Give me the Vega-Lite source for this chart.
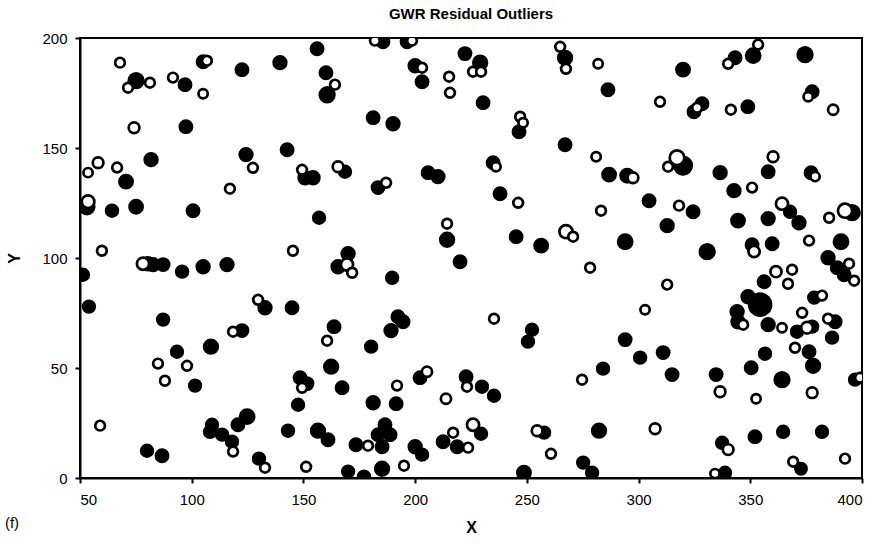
{
"$schema":"https://vega.github.io/schema/vega-lite/v6.json",
"width":782,"height":440,
"autosize":{"type":"none"},
"padding":{"left":80,"top":38,"right":18,"bottom":70},
"background":"white",
"config":{"view":{"stroke":"black","strokeWidth":2},"font":"Liberation Sans"},
"title":{"text":"GWR Residual Outliers","fontSize":15,"fontWeight":"bold","font":"Liberation Sans","offset":9,"color":"black"},
"layer":[
{"data":{"values":[
{"X":75.1,"Y":180.6,"sign":"positive","r":3.0},{"X":97.0,"Y":178.8,"sign":"positive","r":2.5},{"X":105.1,"Y":189.2,"sign":"positive","r":2.5},{"X":122.5,"Y":185.6,"sign":"positive","r":2.5},{"X":139.5,"Y":188.8,"sign":"positive","r":2.6},{"X":97.4,"Y":159.7,"sign":"positive","r":2.5},{"X":81.8,"Y":144.7,"sign":"positive","r":2.6},{"X":70.6,"Y":134.7,"sign":"positive","r":2.7},{"X":124.3,"Y":147.0,"sign":"positive","r":2.6},{"X":156.1,"Y":195.1,"sign":"positive","r":2.5},{"X":160.1,"Y":184.2,"sign":"positive","r":2.5},{"X":160.6,"Y":174.2,"sign":"positive","r":3.0},{"X":185.6,"Y":198.3,"sign":"positive","r":2.5},{"X":196.4,"Y":198.3,"sign":"positive","r":2.5},{"X":200.0,"Y":187.4,"sign":"positive","r":2.6},{"X":203.1,"Y":180.1,"sign":"positive","r":2.5},{"X":222.3,"Y":192.9,"sign":"positive","r":2.5},{"X":229.1,"Y":188.8,"sign":"positive","r":2.8},{"X":181.2,"Y":163.8,"sign":"positive","r":2.5},{"X":190.1,"Y":161.0,"sign":"positive","r":2.6},{"X":142.7,"Y":149.2,"sign":"positive","r":2.5},{"X":150.7,"Y":136.5,"sign":"positive","r":2.6},{"X":154.3,"Y":136.5,"sign":"positive","r":2.6},{"X":168.6,"Y":139.2,"sign":"positive","r":2.4},{"X":205.8,"Y":138.8,"sign":"positive","r":2.5},{"X":210.2,"Y":137.0,"sign":"positive","r":2.6},{"X":183.4,"Y":132.0,"sign":"positive","r":2.5},{"X":267.1,"Y":191.0,"sign":"positive","r":2.8},{"X":286.3,"Y":176.5,"sign":"positive","r":2.5},{"X":230.4,"Y":170.6,"sign":"positive","r":2.5},{"X":246.5,"Y":157.4,"sign":"positive","r":2.5},{"X":267.1,"Y":151.5,"sign":"positive","r":2.5},{"X":234.9,"Y":143.3,"sign":"positive","r":2.5},{"X":286.8,"Y":137.9,"sign":"positive","r":2.7},{"X":294.9,"Y":137.4,"sign":"positive","r":2.7},{"X":351.3,"Y":192.0,"sign":"positive","r":2.9},{"X":343.2,"Y":191.0,"sign":"positive","r":2.5},{"X":374.5,"Y":192.4,"sign":"positive","r":3.0},{"X":319.9,"Y":185.6,"sign":"positive","r":2.7},{"X":328.4,"Y":170.1,"sign":"positive","r":2.5},{"X":324.8,"Y":166.5,"sign":"positive","r":2.5},{"X":348.9,"Y":168.8,"sign":"positive","r":2.5},{"X":377.7,"Y":175.6,"sign":"positive","r":2.5},{"X":319.9,"Y":142.0,"sign":"positive","r":3.6},{"X":336.5,"Y":138.8,"sign":"positive","r":2.6},{"X":358.0,"Y":139.2,"sign":"positive","r":2.5},{"X":377.2,"Y":138.8,"sign":"positive","r":2.5},{"X":342.7,"Y":130.6,"sign":"positive","r":2.6},{"X":53.1,"Y":123.3,"sign":"positive","r":3.0},{"X":64.3,"Y":121.5,"sign":"positive","r":2.4},{"X":75.1,"Y":123.3,"sign":"positive","r":2.7},{"X":100.6,"Y":121.5,"sign":"positive","r":2.5},{"X":80.4,"Y":97.4,"sign":"positive","r":2.6},{"X":82.7,"Y":97.0,"sign":"positive","r":2.6},{"X":87.2,"Y":97.0,"sign":"positive","r":2.5},{"X":51.3,"Y":92.4,"sign":"positive","r":2.4},{"X":95.7,"Y":93.8,"sign":"positive","r":2.4},{"X":105.1,"Y":96.0,"sign":"positive","r":2.6},{"X":115.8,"Y":97.0,"sign":"positive","r":2.6},{"X":132.8,"Y":77.4,"sign":"positive","r":2.6},{"X":54.0,"Y":77.9,"sign":"positive","r":2.4},{"X":87.2,"Y":72.0,"sign":"positive","r":2.4},{"X":122.5,"Y":67.0,"sign":"positive","r":2.5},{"X":157.0,"Y":118.3,"sign":"positive","r":2.4},{"X":214.3,"Y":108.3,"sign":"positive","r":2.8},{"X":220.1,"Y":98.3,"sign":"positive","r":2.5},{"X":170.0,"Y":102.0,"sign":"positive","r":2.6},{"X":165.5,"Y":96.0,"sign":"positive","r":2.6},{"X":189.7,"Y":91.0,"sign":"positive","r":2.4},{"X":144.9,"Y":77.4,"sign":"positive","r":2.5},{"X":163.7,"Y":68.8,"sign":"positive","r":2.5},{"X":192.3,"Y":73.3,"sign":"positive","r":2.5},{"X":194.6,"Y":71.0,"sign":"positive","r":2.5},{"X":189.2,"Y":67.0,"sign":"positive","r":2.6},{"X":238.0,"Y":129.2,"sign":"positive","r":2.5},{"X":304.7,"Y":126.0,"sign":"positive","r":2.5},{"X":312.8,"Y":114.7,"sign":"positive","r":2.6},{"X":245.2,"Y":109.7,"sign":"positive","r":2.5},{"X":256.4,"Y":105.6,"sign":"positive","r":2.7},{"X":294.0,"Y":107.4,"sign":"positive","r":2.9},{"X":252.3,"Y":67.4,"sign":"positive","r":2.4},{"X":250.5,"Y":62.0,"sign":"positive","r":2.4},{"X":324.4,"Y":121.0,"sign":"positive","r":2.5},{"X":344.5,"Y":117.0,"sign":"positive","r":2.7},{"X":358.0,"Y":117.9,"sign":"positive","r":2.6},{"X":367.8,"Y":121.0,"sign":"positive","r":2.4},{"X":371.8,"Y":116.0,"sign":"positive","r":2.6},{"X":395.6,"Y":120.6,"sign":"positive","r":3.0},{"X":330.7,"Y":102.9,"sign":"positive","r":3.0},{"X":350.8,"Y":106.0,"sign":"positive","r":2.5},{"X":359.8,"Y":106.5,"sign":"positive","r":2.5},{"X":390.6,"Y":107.4,"sign":"positive","r":2.9},{"X":384.8,"Y":100.1,"sign":"positive","r":2.6},{"X":388.9,"Y":95.6,"sign":"positive","r":2.5},{"X":392.0,"Y":92.4,"sign":"positive","r":2.5},{"X":356.2,"Y":89.2,"sign":"positive","r":2.5},{"X":349.0,"Y":82.4,"sign":"positive","r":2.6},{"X":354.4,"Y":78.8,"sign":"positive","r":4.5},{"X":344.1,"Y":75.6,"sign":"positive","r":2.6},{"X":344.5,"Y":71.0,"sign":"positive","r":2.6},{"X":358.0,"Y":69.7,"sign":"positive","r":2.6},{"X":378.6,"Y":82.0,"sign":"positive","r":2.4},{"X":388.0,"Y":71.0,"sign":"positive","r":2.5},{"X":370.9,"Y":66.5,"sign":"positive","r":2.4},{"X":377.7,"Y":68.8,"sign":"positive","r":2.4},{"X":386.6,"Y":63.8,"sign":"positive","r":2.4},{"X":376.3,"Y":57.4,"sign":"positive","r":2.5},{"X":378.1,"Y":51.0,"sign":"positive","r":2.8},{"X":311.0,"Y":57.0,"sign":"positive","r":2.5},{"X":315.0,"Y":47.0,"sign":"positive","r":2.5},{"X":334.7,"Y":47.0,"sign":"positive","r":2.5},{"X":350.4,"Y":50.1,"sign":"positive","r":2.5},{"X":356.6,"Y":56.5,"sign":"positive","r":2.4},{"X":364.2,"Y":44.7,"sign":"positive","r":3.0},{"X":396.9,"Y":44.7,"sign":"positive","r":2.4},{"X":337.4,"Y":16.0,"sign":"positive","r":2.4},{"X":352.1,"Y":18.8,"sign":"positive","r":2.5},{"X":364.7,"Y":21.0,"sign":"positive","r":2.4},{"X":382.1,"Y":21.0,"sign":"positive","r":2.4},{"X":372.7,"Y":4.2,"sign":"positive","r":2.3},{"X":338.7,"Y":2.4,"sign":"positive","r":2.4},{"X":294.0,"Y":62.9,"sign":"positive","r":2.5},{"X":300.7,"Y":54.7,"sign":"positive","r":2.4},{"X":284.1,"Y":49.7,"sign":"positive","r":2.4},{"X":222.8,"Y":46.0,"sign":"positive","r":2.5},{"X":229.9,"Y":41.5,"sign":"positive","r":2.4},{"X":235.3,"Y":37.4,"sign":"positive","r":2.4},{"X":229.5,"Y":20.1,"sign":"positive","r":2.4},{"X":257.7,"Y":20.6,"sign":"positive","r":2.4},{"X":282.3,"Y":21.5,"sign":"positive","r":2.8},{"X":275.2,"Y":7.0,"sign":"positive","r":2.4},{"X":279.2,"Y":2.4,"sign":"positive","r":2.4},{"X":248.7,"Y":2.4,"sign":"positive","r":2.7},{"X":180.3,"Y":59.7,"sign":"positive","r":2.4},{"X":162.4,"Y":50.6,"sign":"positive","r":2.8},{"X":148.5,"Y":45.6,"sign":"positive","r":2.5},{"X":151.6,"Y":42.9,"sign":"positive","r":2.5},{"X":167.3,"Y":41.0,"sign":"positive","r":2.5},{"X":202.2,"Y":45.6,"sign":"positive","r":2.5},{"X":147.6,"Y":33.3,"sign":"positive","r":2.4},{"X":181.2,"Y":34.2,"sign":"positive","r":2.6},{"X":191.5,"Y":33.8,"sign":"positive","r":2.5},{"X":143.1,"Y":21.5,"sign":"positive","r":2.4},{"X":156.5,"Y":21.5,"sign":"positive","r":2.8},{"X":161.0,"Y":17.4,"sign":"positive","r":2.5},{"X":173.5,"Y":15.1,"sign":"positive","r":2.5},{"X":183.4,"Y":19.7,"sign":"positive","r":2.5},{"X":186.5,"Y":24.2,"sign":"positive","r":2.5},{"X":188.8,"Y":19.7,"sign":"positive","r":2.5},{"X":185.2,"Y":14.2,"sign":"positive","r":2.5},{"X":200.0,"Y":14.2,"sign":"positive","r":2.6},{"X":203.1,"Y":10.6,"sign":"positive","r":2.4},{"X":212.5,"Y":16.5,"sign":"positive","r":2.5},{"X":218.8,"Y":14.2,"sign":"positive","r":2.5},{"X":170.0,"Y":2.9,"sign":"positive","r":2.4},{"X":177.1,"Y":0.6,"sign":"positive","r":2.4},{"X":185.2,"Y":4.2,"sign":"positive","r":2.8},{"X":108.6,"Y":59.7,"sign":"positive","r":2.8},{"X":93.4,"Y":57.4,"sign":"positive","r":2.4},{"X":101.5,"Y":42.0,"sign":"positive","r":2.4},{"X":109.1,"Y":24.2,"sign":"positive","r":2.4},{"X":108.2,"Y":21.0,"sign":"positive","r":2.4},{"X":113.6,"Y":19.7,"sign":"positive","r":2.4},{"X":118.0,"Y":16.5,"sign":"positive","r":2.4},{"X":124.8,"Y":27.9,"sign":"positive","r":2.9},{"X":120.7,"Y":24.2,"sign":"positive","r":2.5},{"X":80.0,"Y":12.4,"sign":"positive","r":2.4},{"X":86.7,"Y":10.1,"sign":"positive","r":2.5},{"X":130.1,"Y":8.8,"sign":"positive","r":2.4},
{"X":67.9,"Y":188.8,"sign":"negative","r":2.0},{"X":71.5,"Y":177.4,"sign":"negative","r":2.0},{"X":81.3,"Y":179.7,"sign":"negative","r":2.0},{"X":91.6,"Y":182.0,"sign":"negative","r":2.0},{"X":105.1,"Y":174.7,"sign":"negative","r":1.9},{"X":106.8,"Y":189.7,"sign":"negative","r":2.0},{"X":74.2,"Y":159.2,"sign":"negative","r":2.2},{"X":58.1,"Y":143.3,"sign":"negative","r":2.2},{"X":53.6,"Y":138.8,"sign":"negative","r":1.9},{"X":66.6,"Y":141.1,"sign":"negative","r":2.0},{"X":127.4,"Y":141.0,"sign":"negative","r":2.0},{"X":117.1,"Y":131.5,"sign":"negative","r":2.0},{"X":164.1,"Y":178.8,"sign":"negative","r":2.0},{"X":182.0,"Y":198.8,"sign":"negative","r":2.0},{"X":198.6,"Y":198.8,"sign":"negative","r":2.0},{"X":203.1,"Y":186.5,"sign":"negative","r":2.0},{"X":215.2,"Y":182.4,"sign":"negative","r":2.0},{"X":215.6,"Y":175.1,"sign":"negative","r":2.0},{"X":225.9,"Y":184.7,"sign":"negative","r":2.0},{"X":229.5,"Y":184.7,"sign":"negative","r":2.0},{"X":149.4,"Y":140.1,"sign":"negative","r":2.0},{"X":165.5,"Y":141.5,"sign":"negative","r":2.2},{"X":187.0,"Y":134.2,"sign":"negative","r":2.0},{"X":264.9,"Y":196.0,"sign":"negative","r":2.0},{"X":267.5,"Y":186.0,"sign":"negative","r":2.0},{"X":281.9,"Y":188.3,"sign":"negative","r":1.9},{"X":309.6,"Y":171.0,"sign":"negative","r":2.0},{"X":247.0,"Y":164.2,"sign":"negative","r":2.0},{"X":248.3,"Y":161.5,"sign":"negative","r":1.9},{"X":281.0,"Y":146.0,"sign":"negative","r":1.9},{"X":236.2,"Y":141.5,"sign":"negative","r":1.9},{"X":297.5,"Y":136.5,"sign":"negative","r":2.2},{"X":353.5,"Y":197.0,"sign":"negative","r":2.0},{"X":340.1,"Y":188.3,"sign":"negative","r":2.0},{"X":326.2,"Y":168.3,"sign":"negative","r":2.0},{"X":341.3,"Y":167.4,"sign":"negative","r":2.0},{"X":375.9,"Y":173.3,"sign":"negative","r":1.9},{"X":387.1,"Y":167.4,"sign":"negative","r":2.1},{"X":313.2,"Y":141.5,"sign":"negative","r":2.0},{"X":317.2,"Y":145.6,"sign":"negative","r":3.0},{"X":360.2,"Y":146.0,"sign":"negative","r":2.2},{"X":379.0,"Y":137.0,"sign":"negative","r":1.9},{"X":350.8,"Y":132.0,"sign":"negative","r":2.0},{"X":53.6,"Y":125.6,"sign":"negative","r":2.6},{"X":59.8,"Y":103.3,"sign":"negative","r":2.0},{"X":78.2,"Y":97.4,"sign":"negative","r":2.5},{"X":129.7,"Y":81.0,"sign":"negative","r":2.0},{"X":118.5,"Y":66.5,"sign":"negative","r":2.0},{"X":214.3,"Y":115.6,"sign":"negative","r":2.0},{"X":145.3,"Y":103.3,"sign":"negative","r":2.0},{"X":169.5,"Y":97.0,"sign":"negative","r":2.5},{"X":171.8,"Y":93.3,"sign":"negative","r":2.0},{"X":246.1,"Y":125.1,"sign":"negative","r":2.0},{"X":283.2,"Y":121.5,"sign":"negative","r":2.0},{"X":267.5,"Y":112.0,"sign":"negative","r":2.7},{"X":270.7,"Y":109.7,"sign":"negative","r":2.0},{"X":278.3,"Y":95.6,"sign":"negative","r":2.0},{"X":312.8,"Y":87.9,"sign":"negative","r":2.0},{"X":302.9,"Y":76.5,"sign":"negative","r":1.9},{"X":235.3,"Y":72.4,"sign":"negative","r":2.0},{"X":318.1,"Y":123.8,"sign":"negative","r":2.0},{"X":364.2,"Y":124.7,"sign":"negative","r":2.5},{"X":385.3,"Y":118.3,"sign":"negative","r":2.0},{"X":392.4,"Y":121.5,"sign":"negative","r":2.9},{"X":351.7,"Y":102.9,"sign":"negative","r":2.3},{"X":376.3,"Y":107.9,"sign":"negative","r":2.0},{"X":394.2,"Y":97.4,"sign":"negative","r":2.0},{"X":396.5,"Y":89.7,"sign":"negative","r":2.0},{"X":361.5,"Y":93.8,"sign":"negative","r":2.3},{"X":368.7,"Y":94.7,"sign":"negative","r":2.0},{"X":366.9,"Y":88.3,"sign":"negative","r":2.0},{"X":346.8,"Y":69.7,"sign":"negative","r":2.0},{"X":364.2,"Y":68.3,"sign":"negative","r":1.9},{"X":373.2,"Y":75.1,"sign":"negative","r":2.0},{"X":382.1,"Y":82.9,"sign":"negative","r":2.0},{"X":375.4,"Y":68.3,"sign":"negative","r":2.4},{"X":384.8,"Y":72.4,"sign":"negative","r":2.0},{"X":370.0,"Y":59.2,"sign":"negative","r":2.0},{"X":336.5,"Y":39.2,"sign":"negative","r":2.2},{"X":352.6,"Y":36.0,"sign":"negative","r":1.9},{"X":377.7,"Y":38.8,"sign":"negative","r":2.2},{"X":399.1,"Y":45.6,"sign":"negative","r":2.0},{"X":307.4,"Y":22.4,"sign":"negative","r":2.2},{"X":340.1,"Y":12.9,"sign":"negative","r":2.2},{"X":369.2,"Y":7.4,"sign":"negative","r":2.0},{"X":392.4,"Y":8.8,"sign":"negative","r":2.0},{"X":334.2,"Y":2.0,"sign":"negative","r":1.9},{"X":274.7,"Y":44.7,"sign":"negative","r":2.0},{"X":223.2,"Y":41.5,"sign":"negative","r":2.0},{"X":225.9,"Y":24.2,"sign":"negative","r":2.5},{"X":223.7,"Y":13.8,"sign":"negative","r":2.0},{"X":254.6,"Y":21.5,"sign":"negative","r":2.2},{"X":260.8,"Y":11.0,"sign":"negative","r":2.0},{"X":160.6,"Y":62.4,"sign":"negative","r":2.0},{"X":149.4,"Y":41.0,"sign":"negative","r":2.0},{"X":191.9,"Y":42.0,"sign":"negative","r":2.0},{"X":205.3,"Y":48.3,"sign":"negative","r":2.1},{"X":213.8,"Y":36.0,"sign":"negative","r":2.1},{"X":178.9,"Y":14.7,"sign":"negative","r":2.0},{"X":217.0,"Y":20.6,"sign":"negative","r":2.0},{"X":151.2,"Y":5.1,"sign":"negative","r":2.0},{"X":195.0,"Y":5.6,"sign":"negative","r":2.0},{"X":84.9,"Y":52.0,"sign":"negative","r":2.0},{"X":97.9,"Y":51.0,"sign":"negative","r":2.0},{"X":88.0,"Y":44.2,"sign":"negative","r":2.0},{"X":59.0,"Y":23.8,"sign":"negative","r":2.0},{"X":118.5,"Y":12.0,"sign":"negative","r":2.0},{"X":132.8,"Y":4.7,"sign":"negative","r":2.0}
]},
"mark":{"type":"point","shape":"circle","filled":true,"stroke":"black","strokeWidth":2.7,"opacity":1,"fillOpacity":1,"strokeOpacity":1,"clip":true},
"encoding":{
"x":{"field":"X","type":"quantitative","scale":{"domain":[50,400],"nice":false,"zero":false},
"axis":{"title":"X","values":[50,100,150,200,250,300,350,400],"grid":false,"domainColor":"black","domainWidth":2,"tickColor":"black","tickWidth":2,"tickSize":5,"labelColor":"black","labelFontSize":15,"labelFont":"Liberation Sans","labelPadding":9,"titleFont":"Liberation Sans","titleFontSize":16,"titleFontWeight":"bold","titleColor":"black","titlePadding":12}},
"y":{"field":"Y","type":"quantitative","scale":{"domain":[0,200],"nice":false,"zero":false},
"axis":{"title":"Y","values":[0,50,100,150,200],"grid":false,"domainColor":"black","domainWidth":2,"tickColor":"black","tickWidth":2,"tickSize":5,"labelColor":"black","labelFontSize":15,"labelFont":"Liberation Sans","labelPadding":8,"titleFont":"Liberation Sans","titleFontSize":16,"titleFontWeight":"bold","titleColor":"black","titlePadding":19}},
"fill":{"field":"sign","type":"nominal","scale":{"domain":["positive","negative"],"range":["black","white"]},"legend":null},
"size":{"field":"r","type":"quantitative","scale":{"type":"pow","exponent":2,"domain":[0,4.5],"range":[0,480]},"legend":null}
}},
{"data":{"values":[{"label":"(f)","X":16.4,"Y":-20.3}]},
"mark":{"type":"text","align":"left","baseline":"middle","fontSize":15,"font":"Liberation Sans","color":"black","clip":false},
"encoding":{
"x":{"field":"X","type":"quantitative","scale":{"domain":[50,400],"nice":false,"zero":false}},
"y":{"field":"Y","type":"quantitative","scale":{"domain":[0,200],"nice":false,"zero":false}},
"text":{"field":"label"}}}
]
}
